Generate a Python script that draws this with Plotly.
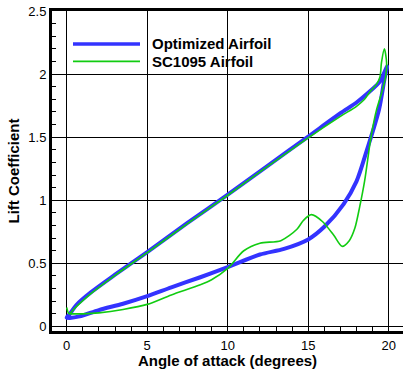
import plotly.graph_objects as go

# Lift hysteresis loops over one pitching cycle (angle of attack in degrees)
alpha_opt = [0.0, 0.2, 0.6, 1.5, 3.0, 5.0, 7.5, 10.0, 12.5, 15.0, 17.0, 18.0,
             18.8, 19.45, 19.9, 19.75, 19.4, 18.65, 18.0, 17.2, 16.0, 15.0,
             13.5, 12.0, 10.0, 8.3, 6.5, 5.0, 3.5, 2.0, 0.8, 0.2, 0.0]
cl_opt = [0.07, 0.10, 0.17, 0.27, 0.41, 0.59, 0.82, 1.045, 1.275, 1.505, 1.69,
          1.775, 1.86, 1.94, 2.06, 1.97, 1.72, 1.40, 1.15, 0.97, 0.79, 0.69,
          0.615, 0.57, 0.47, 0.39, 0.31, 0.24, 0.18, 0.13, 0.08, 0.068, 0.07]

alpha_sc = [0.0, 0.15, 0.5, 1.5, 3.0, 5.0, 7.5, 10.0, 12.5, 15.0, 17.0, 18.0,
            18.5, 18.84, 19.25, 19.46, 19.55, 19.73, 19.87, 19.81, 19.56, 19.25,
            18.9, 18.5, 18.2, 17.9, 17.55, 17.1, 16.6, 15.9, 15.2, 14.7, 14.3,
            13.3, 12.0, 11.0, 10.0, 9.0, 8.3, 6.5, 5.0, 3.5, 2.0, 1.0, 0.2]
cl_sc = [0.15, 0.10, 0.145, 0.26, 0.405, 0.585, 0.815, 1.04, 1.27, 1.495, 1.665,
         1.745, 1.80, 1.86, 1.92, 1.98, 2.09, 2.20, 2.09, 1.98, 1.85, 1.72,
         1.50, 1.15, 0.95, 0.78, 0.68, 0.635, 0.72, 0.83, 0.886, 0.84, 0.77,
         0.68, 0.66, 0.60, 0.46, 0.37, 0.33, 0.25, 0.175, 0.135, 0.108, 0.10,
         0.10]

series_names = ["Optimized Airfoil", "SC1095 Airfoil"]
series_colors = ["#3333ff", "#11cc11"]
series_widths = [4, 1.6]

x_ticks = [0, 5, 10, 15, 20]
y_ticks = [0, 0.5, 1, 1.5, 2, 2.5]

W, H = 403, 369
ML, MR, MT, MB = 52, 0, 11, 37.5

fig = go.Figure()
for name, xs, ys, col, lw in zip(series_names, [alpha_opt, alpha_sc],
                                 [cl_opt, cl_sc], series_colors, series_widths):
    fig.add_trace(go.Scatter(x=xs, y=ys, mode="lines", name=name,
                             line=dict(color=col, width=lw, shape="spline",
                                       smoothing=0.8),
                             showlegend=False))

# Hand-placed legend with long swatches
pw = W - ML - MR
ph = H - MT - MB
leg_y = [44, 61.5]
for name, col, lw, py in zip(series_names, series_colors, [3.5, 1.8], leg_y):
    yp = 1 - (py - MT) / ph
    fig.add_shape(type="line", xref="paper", yref="paper",
                  x0=(73 - ML) / pw, x1=(140 - ML) / pw, y0=yp, y1=yp,
                  line=dict(color=col, width=lw))
    fig.add_annotation(text=name, xref="paper", yref="paper",
                       x=(150 - ML) / pw, y=yp, xanchor="left", yanchor="middle",
                       showarrow=False,
                       font=dict(family="Liberation Sans", size=15,
                                 color="black", weight="bold"))

axis_common = dict(
    showgrid=True, gridcolor="black", gridwidth=1, zeroline=False,
    showline=True, linecolor="black", linewidth=3,
    ticks="inside", ticklen=8, tickwidth=1, tickcolor="black",
    tickfont=dict(family="Liberation Sans", size=13, color="black"),
)

fig.update_xaxes(
    range=[(ML - 66.7) / 16.1, (W - 66.7) / 16.1],
    tickvals=x_ticks, mirror=True,
    minor=dict(ticks="inside", ticklen=4, dtick=1, tickcolor="black",
               showgrid=False),
    title=dict(text="Angle of attack (degrees)", standoff=1,
               font=dict(family="Liberation Sans", size=15, color="black",
                         weight="bold")),
    **axis_common)
fig.update_yaxes(
    range=[-0.036, 2.5],
    tickvals=y_ticks, ticktext=["0", "0.5", "1", "1.5", "2", "2.5"],
    minor=dict(ticks="inside", ticklen=4, dtick=0.1, tickcolor="black",
               showgrid=False),
    title=dict(text="Lift Coefficient", standoff=6,
               font=dict(family="Liberation Sans", size=15, color="black",
                         weight="bold")),
    **axis_common)

fig.update_layout(
    width=W, height=H,
    margin=dict(l=ML, r=MR, t=MT, b=MB, pad=0),
    paper_bgcolor="white", plot_bgcolor="white",
    showlegend=False,
)

fig.write_html("out.html")
